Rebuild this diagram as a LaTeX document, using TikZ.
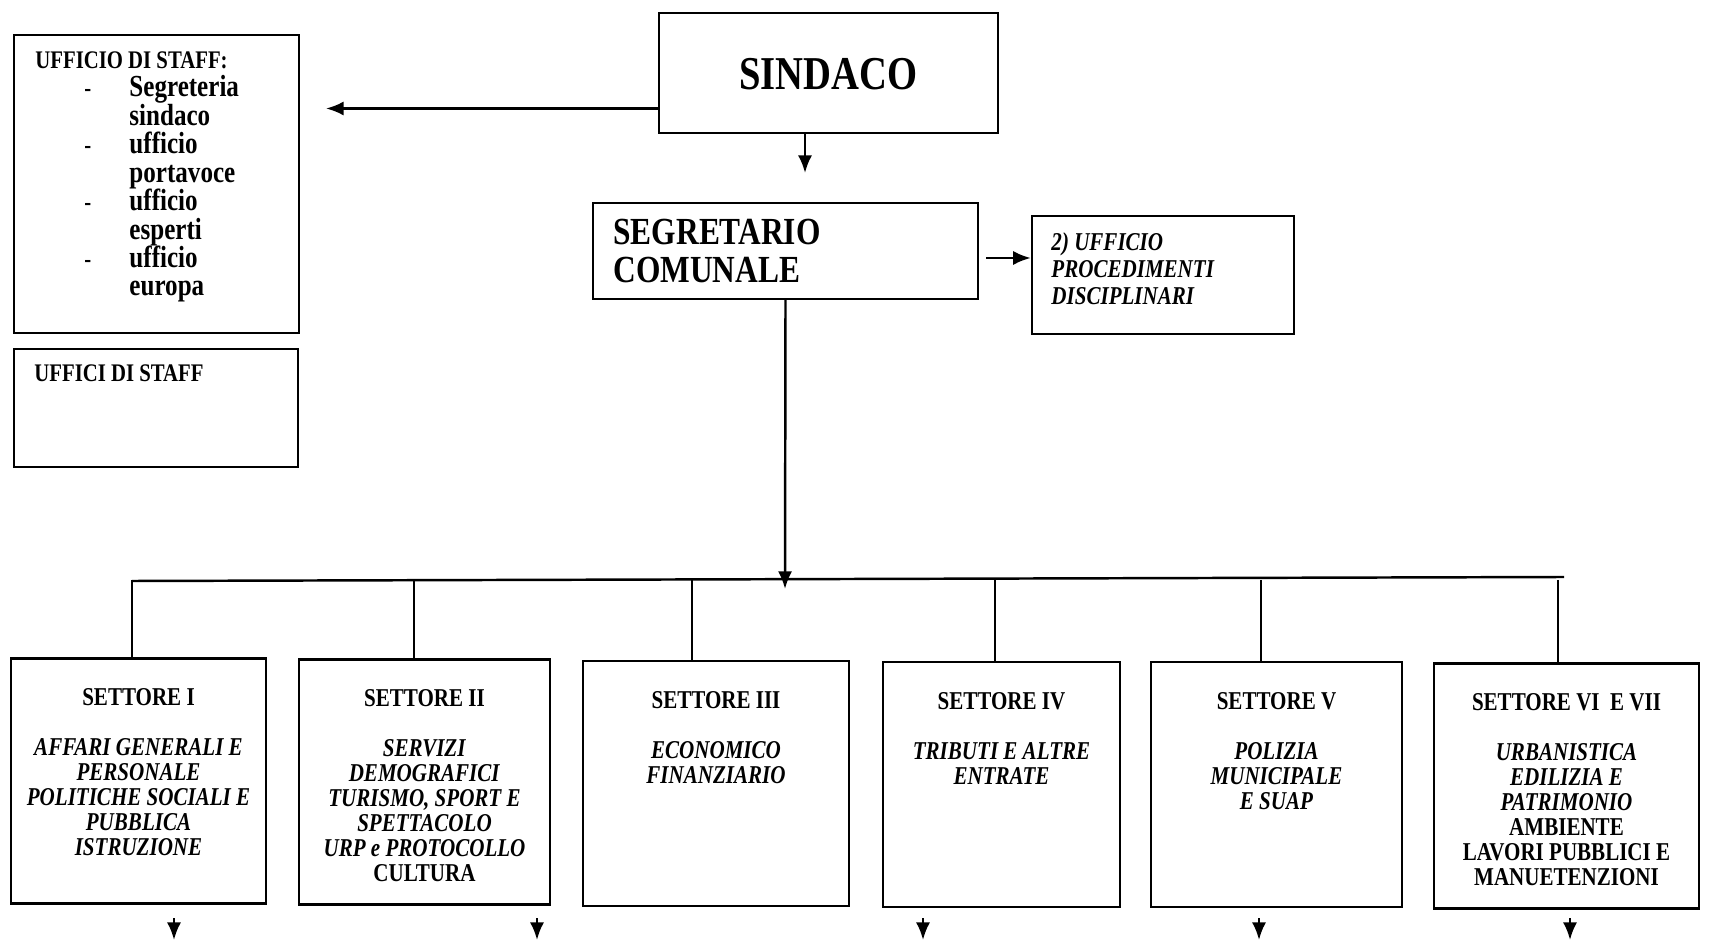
\documentclass[tikz,border=0pt]{standalone}
\usepackage{fontspec}
\setmainfont[FakeStretch=0.82]{Liberation Serif}
\usetikzlibrary{arrows.meta,positioning,calc}
\tikzstyle{bx}=[rectangle,draw=black,line width=0.7pt,inner sep=0pt]
\tikzstyle{st}=[bx,minimum height=24.5mm]
\tikzstyle{tt}=[align=center,inner sep=0pt,font=\fontsize{7.3}{7.1}\selectfont\bfseries]
\tikzstyle{lt}=[align=left,inner sep=0pt,font=\fontsize{7.2}{8.1}\selectfont\bfseries]
\tikzstyle{ln}=[line width=0.7pt]
\tikzstyle{ar}=[ln,-{Latex[length=5pt,width=4pt]}]
\newcommand{\lw}[1]{{\fontsize{8.7}{8.1}\selectfont #1}}

\begin{document}
\begin{tikzpicture}[x=0.1mm, y=-0.1mm]
            \useasboundingbox (0,0) rectangle (1719,941);
            % boxes
            \node [bx, minimum width=28.5mm, minimum height=29.8mm] (uf) at (156.5, 184) {};
            \node [bx, minimum width=28.4mm, minimum height=11.8mm] (ui) at (156, 408) {};
            \node [bx, minimum width=33.9mm, minimum height=12mm, font=\fontsize{13.4}{14}\selectfont\bfseries] (sn) at (828.5, 73) {\raisebox{-1.7mm}[0pt][0pt]{SINDACO}};
            \node [bx, minimum width=38.5mm, minimum height=9.6mm] (sg) at (785.5, 251) {};
            \node [bx, minimum width=26.2mm, minimum height=11.8mm] (up) at (1163, 275) {};
            \node [st, minimum width=25.5mm] (s1) at (138.5, 781) {};
            \node [st, minimum width=25.1mm] (s2) at (424.5, 782) {};
            \node [st, minimum width=26.6mm] (s3) at (716, 783.5) {};
            \node [st, minimum width=23.7mm] (s4) at (1001.5, 784.5) {};
            \node [st, minimum width=25.1mm] (s5) at (1276.5, 784.5) {};
            \node [st, minimum width=26.5mm] (s6) at (1566.5, 786) {};
            % texts
            \node [lt, below right=1.7mm and 2.2mm of uf.north west] (t0) {UFFICIO DI STAFF:\\
              \hspace*{4.9mm}\makebox[4.5mm][l]{-}\lw{Segreteria}\\ \hspace*{9.4mm}\lw{sindaco}\\
              \hspace*{4.9mm}\makebox[4.5mm][l]{-}\lw{ufficio}\\ \hspace*{9.4mm}\lw{portavoce}\\
              \hspace*{4.9mm}\makebox[4.5mm][l]{-}\lw{ufficio}\\ \hspace*{9.4mm}\lw{esperti}\\
              \hspace*{4.9mm}\makebox[4.5mm][l]{-}\lw{ufficio}\\ \hspace*{9.4mm}\lw{europa}};
            \node [lt, below right=1.6mm and 2.1mm of ui.north west] (t1) {UFFICI DI STAFF};
            \node [lt, below right=1.7mm and 2.1mm of sg.north west, font=\fontsize{10.9}{10.6}\selectfont\bfseries] (t2) {SEGRETARIO\\COMUNALE};
            \node [lt, below right=1.7mm and 2mm of up.north west, font=\fontsize{7.3}{7.7}\selectfont\bfseries\itshape] (t3) {2) UFFICIO\\PROCEDIMENTI\\DISCIPLINARI};
            \node [tt, below=3.1mm of s1.north] (u1) {SETTORE I\\[7.1pt] \textit{AFFARI GENERALI E}\\ \textit{PERSONALE}\\ \textit{POLITICHE SOCIALI E}\\ \textit{PUBBLICA}\\ \textit{ISTRUZIONE}};
            \node [tt, below=3.1mm of s2.north] (u2) {SETTORE II\\[7.1pt] \textit{SERVIZI}\\ \textit{DEMOGRAFICI}\\ \textit{TURISMO, SPORT E}\\ \textit{SPETTACOLO}\\ \textit{URP e PROTOCOLLO}\\ CULTURA};
            \node [tt, below=3.1mm of s3.north] (u3) {SETTORE III\\[7.1pt] \textit{ECONOMICO}\\ \textit{FINANZIARIO}};
            \node [tt, below=3.1mm of s4.north] (u4) {SETTORE IV\\[7.1pt] \textit{TRIBUTI E ALTRE}\\ \textit{ENTRATE}};
            \node [tt, below=3.1mm of s5.north] (u5) {SETTORE V\\[7.1pt] \textit{POLIZIA}\\ \textit{MUNICIPALE}\\ \textit{E SUAP}};
            \node [tt, below=3.1mm of s6.north] (u6) {SETTORE VI\ \ E VII\\[7.1pt] \textit{URBANISTICA}\\ \textit{EDILIZIA E}\\ \textit{PATRIMONIO}\\ AMBIENTE\\ LAVORI PUBBLICI E\\ MANUETENZIONI};
            % connectors
            \coordinate (a0) at (326, 108.5);
            \coordinate (a1) at (805, 173);
            \coordinate (a2) at (986, 258);
            \coordinate (b0) at (785, 589);
            \coordinate (b1) at (132, 581);
            \coordinate (b2) at (1564, 577);
            \draw [ar] (sn.west |- a0) to (a0);
            \draw [ar] (sn.south -| a1) to (a1);
            \draw [ar] (a2) to (up.west |- a2);
            \draw [ar] (sg.south) to (b0);
            \draw [ln] (b1) to (b2);
            \foreach \n/\x in {s1/132, s2/414, s3/692, s4/995, s5/1261, s6/1558} {
              \coordinate (d\n) at (\x, 580);
              \draw [ln] (d\n) to (d\n |- \n.north);
            }
            \foreach \x [count=\i] in {174, 537, 923, 1259, 1570} {
              \coordinate (e\i) at (\x, 918);
              \coordinate (f\i) at (\x, 940);
              \draw [ar] (e\i) to (f\i);
            }
    \end{tikzpicture}
\end{document}
